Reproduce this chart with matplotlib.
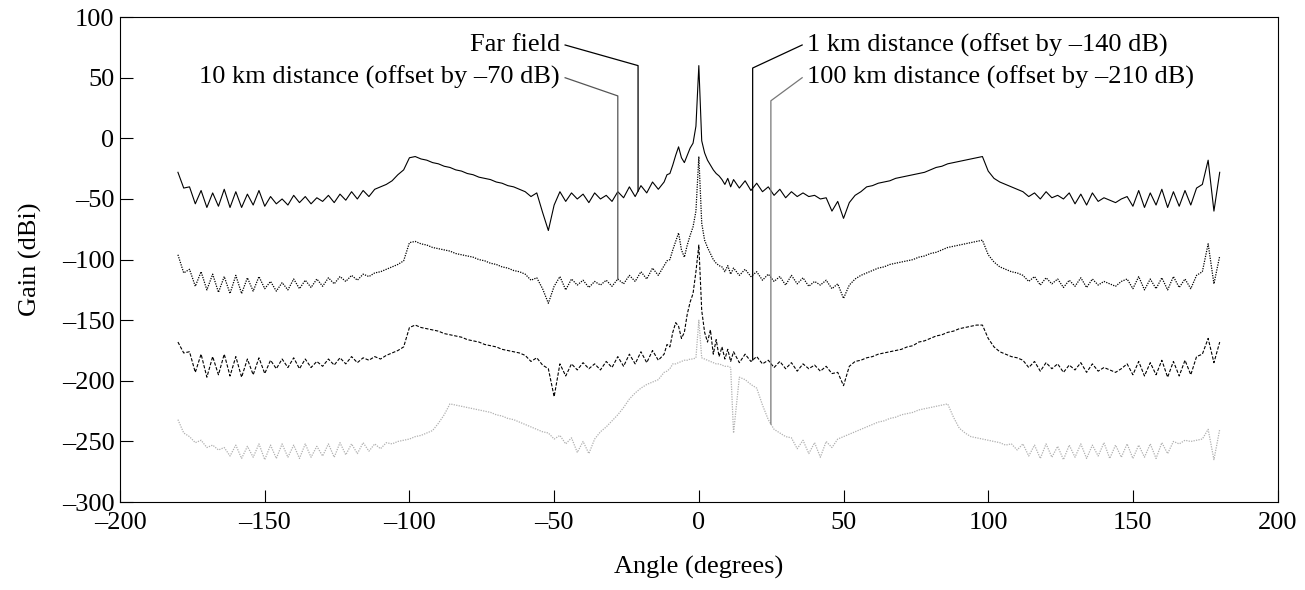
import numpy as np
import matplotlib
matplotlib.use("Agg")
import matplotlib.pyplot as plt

plt.rcParams['font.family'] = ['Liberation Serif', 'DejaVu Serif']
plt.rcParams['font.size'] = 19

# angle grid (degrees): 2 deg steps outside, 1 deg steps near boresight
angle = np.concatenate([np.arange(-180, -12, 2), np.arange(-12, 12, 1), np.arange(12, 181, 2)])

far_field = [
    -28, -41, -40, -54, -43, -57, -45, -56, -42, -57,
    -44, -57, -46, -55, -43, -56, -48, -54, -50, -55,
    -47, -53, -48, -54, -49, -52, -47, -53, -46, -51,
    -44, -50, -43, -48, -42, -40, -38, -35, -30, -26,
    -16, -15, -17, -18, -20, -21, -23, -24, -26, -27,
    -29, -30, -32, -33, -34, -36, -37, -39, -40, -42,
    -44, -48, -45, -61, -76, -55, -44, -52, -45, -50,
    -46, -53, -45, -50, -47, -52, -44, -49, -40, -48,
    -39, -45, -36, -42,
    -36, -30, -29, -22, -14, -7, -16, -20, -14, -8,
    -4, 10, 60, -2, -12, -18, -22, -26, -29, -31,
    -34, -38, -33, -40,
    -34, -41, -35, -43, -37, -44, -40, -47, -42, -49,
    -44, -48, -45, -48, -47, -50, -49, -60, -52, -66,
    -53, -47, -44, -40, -39, -37, -36, -35, -33, -32,
    -31, -30, -29, -28, -26, -24, -23, -21, -20, -19,
    -18, -17, -16, -15, -27, -33, -36, -38, -40, -42,
    -44, -48, -45, -50, -44, -49, -47, -50, -45, -54,
    -46, -55, -45, -52, -49, -51, -53, -50, -48, -56,
    -43, -57, -45, -55, -42, -57, -44, -56, -43, -55,
    -41, -38, -18, -60, -28,
]

km10 = [
    -96, -111, -108, -122, -110, -125, -112, -127, -114, -128,
    -113, -128, -115, -126, -114, -124, -118, -126, -119, -125,
    -116, -124, -117, -123, -116, -122, -115, -120, -114, -118,
    -113, -117, -112, -114, -111, -110, -108, -106, -104, -101,
    -86, -85, -87, -88, -90, -91, -92, -93, -95, -96,
    -97, -98, -100, -101, -103, -104, -106, -107, -109, -110,
    -112, -117, -115, -124, -136, -122, -114, -125, -116, -121,
    -117, -123, -118, -121, -117, -122, -116, -120, -113, -118,
    -110, -116, -107, -113,
    -105, -101, -100, -92, -85, -78, -92, -98, -88, -80,
    -73, -60, -15, -70, -84, -90, -95, -100, -103, -105,
    -106, -110, -105, -112,
    -107, -113, -108, -114, -110, -117, -112, -118, -114, -121,
    -113, -120, -115, -122, -118, -121, -117, -124, -120, -132,
    -121, -116, -113, -111, -109, -107, -106, -104, -103, -102,
    -101, -100, -98, -97, -95, -94, -92, -90, -89, -88,
    -87, -86, -85, -84, -96, -102, -106, -108, -110, -111,
    -113, -118, -114, -121, -115, -120, -116, -123, -117, -122,
    -115, -123, -116, -121, -118, -120, -122, -118, -116, -124,
    -114, -125, -116, -124, -115, -125, -114, -123, -116, -124,
    -113, -110, -87, -120, -97,
]

km1 = [
    -168, -177, -176, -193, -178, -197, -180, -195, -178, -196,
    -180, -197, -182, -195, -181, -194, -183, -190, -182, -189,
    -181, -190, -182, -189, -184, -188, -182, -187, -181, -186,
    -180, -185, -181, -183, -180, -182, -179, -177, -175, -172,
    -156, -154, -156, -157, -158, -159, -161, -162, -163, -164,
    -166, -167, -168, -170, -171, -172, -174, -175, -176, -177,
    -179, -184, -181, -187, -190, -213, -186, -196, -186, -191,
    -185, -190, -186, -191, -184, -189, -180, -188, -178, -186,
    -176, -185, -175, -183,
    -178, -170, -172, -160, -152, -155, -165, -160, -145, -135,
    -128, -110, -88, -142, -160, -168, -158, -178, -166, -180,
    -172, -182, -174, -184,
    -176, -185, -178, -184, -180, -186, -183, -189, -184, -190,
    -185, -192, -186, -190, -187, -192, -188, -194, -193, -204,
    -188, -184, -183, -181, -180, -178, -177, -176, -175, -174,
    -172, -171, -168, -167, -165, -163, -162, -160, -159, -157,
    -156, -155, -154, -154, -165, -172, -176, -178, -180, -181,
    -183, -189, -184, -192, -185, -190, -186, -193, -187, -191,
    -185, -193, -186, -192, -189, -191, -193, -190, -186, -195,
    -184, -196, -185, -195, -183, -197, -184, -196, -183, -195,
    -180, -178, -165, -185, -168,
]

km100 = [
    -232, -243, -246, -251, -249, -255, -253, -257, -255, -262,
    -253, -264, -254, -263, -252, -265, -253, -264, -252, -263,
    -253, -264, -252, -263, -254, -262, -252, -263, -251, -261,
    -252, -260, -251, -258, -252, -256, -251, -252, -250, -249,
    -248, -246, -245, -243, -241, -235, -228, -219, -220, -221,
    -222, -223, -224, -225, -226, -228, -229, -231, -232, -234,
    -236, -238, -240, -242, -243, -248, -245, -252, -247, -259,
    -250, -260, -248, -242, -238, -233, -228, -222, -215, -210,
    -206, -203, -201, -199,
    -193, -192, -190, -186, -186, -185, -184, -183, -183, -182,
    -182, -181, -150, -181, -182, -183, -184, -185, -186, -186,
    -187, -188, -188, -189,
    -243, -197, -199, -203, -206, -220, -232, -240, -243, -246,
    -247, -256, -249, -260, -251, -263, -250, -255, -248, -246,
    -244, -242, -240, -238, -236, -234, -233, -231, -230, -228,
    -227, -226, -224, -223, -222, -221, -220, -219, -230, -239,
    -243, -246, -247, -248, -249, -250, -251, -253, -252, -257,
    -252, -262, -253, -264, -252, -263, -254, -265, -253, -263,
    -252, -264, -253, -262, -251, -264, -253, -263, -252, -264,
    -253, -263, -252, -264, -251, -260, -250, -252, -249, -250,
    -249, -248, -240, -265, -240,
]

labels = ['Far field', '10 km distance (offset by \u201370 dB)',
          '1 km distance (offset by \u2013140 dB)', '100 km distance (offset by \u2013210 dB)']
# where each leader line touches its curve (deg), text anchor and elbow (deg, dB)
leader_angle = [-21, -28, 18.6, 24.9]
text_pos = [(-48, 77), (-48, 50), (37.5, 77), (37.5, 50)]
elbow_pos = [(-21, 60), (-28, 35), (18.6, 58), (24.9, 31)]

fig = plt.figure(figsize=(13.05, 5.9), dpi=100)
ax = fig.add_axes([0.092, 0.149, 0.887, 0.822])

series = [far_field, km10, km1, km100]
styles = [dict(color='black', lw=0.8, ls='-'),
          dict(color='black', lw=0.9, ls=(0, (1, 1))),
          dict(color='black', lw=0.8, ls=(0, (3, 1.5))),
          dict(color='#b0b0b0', lw=0.9, ls=(0, (1, 1)))]
for vals, st in zip(series, styles):
    ax.plot(angle, vals, **st)

leader_col = ['black', '#555555', 'black', '#777777']
for i in range(4):
    tx, ty = text_pos[i]
    ex, ey = elbow_pos[i]
    cy = np.interp(leader_angle[i], angle, series[i])
    ha = 'right' if tx < 0 else 'left'
    ax.text(tx, ty, labels[i], ha=ha, va='center')
    sx = tx + 1.8 if tx < 0 else tx - 1.8
    ax.plot([sx, ex, leader_angle[i]], [ty, ey, cy], color=leader_col[i], lw=0.9)

ax.set_xlim(-200, 200)
ax.set_ylim(-300, 100)
ax.set_xticks(np.arange(-200, 201, 50))
ax.set_yticks(np.arange(-300, 101, 50))
ax.tick_params(direction='in', length=9, top=False, right=False, labelsize=19)
ax.tick_params(axis='y', pad=4)
ax.tick_params(axis='x', pad=7)
ax.set_xticklabels([str(v).replace('-', '\u2013') for v in range(-200, 201, 50)])
ax.set_yticklabels([str(v).replace('-', '\u2013') for v in range(-300, 101, 50)])
ax.set_xlabel('Angle (degrees)', labelpad=16)
ax.set_ylabel('Gain (dBi)', labelpad=14)

fig.savefig('out.png', dpi=100)
